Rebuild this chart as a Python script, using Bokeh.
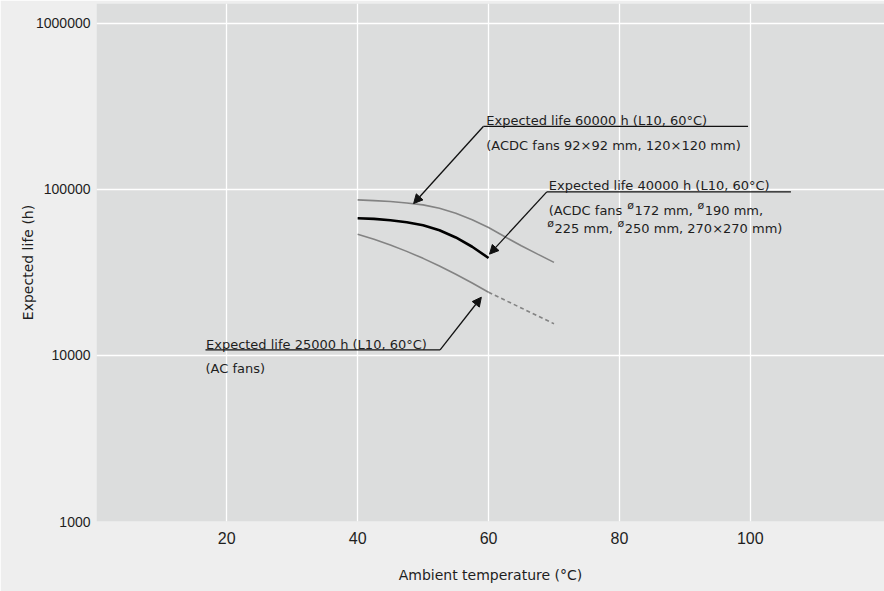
from bokeh.plotting import figure
from bokeh.models import Range1d, FixedTicker, NumeralTickFormatter, Label, Arrow, NormalHead
from bokeh.embed import file_html
from bokeh.resources import INLINE

# ---------------- data ----------------
temp_60k = [40, 42.5, 45, 47.5, 50, 52.5, 55, 57.5, 60, 62.5, 65, 67.5, 70]
life_60k = [86400, 85500, 84400, 82800, 80600, 76900, 71800, 65500, 58900, 51800, 45700, 40700, 36300]

temp_40k = [40, 42.5, 45, 47.5, 50, 52.5, 55, 57.5, 60]
life_40k = [67000, 66400, 65100, 63400, 60800, 56700, 51300, 45100, 38600]

temp_25k = [40, 42.5, 45, 47.5, 50, 52.5, 55, 57.5, 60]
life_25k = [53700, 50000, 46200, 42300, 38400, 34500, 30800, 27300, 24000]
temp_25k_ext = [60, 65, 70]
life_25k_ext = [24000, 19300, 15500]

x_ticks = [20, 40, 60, 80, 100]
x_tick_labels = ["20", "40", "60", "80", "100"]
y_ticks = [1000, 10000, 100000, 1000000]
y_tick_labels = ["1000", "10000", "100000", "1000000"]

ann_60k_lines = ["Expected life 60000 h (L10, 60°C)", "(ACDC fans 92×92 mm, 120×120 mm)"]
ann_40k_title = "Expected life 40000 h (L10, 60°C)"
ann_40k_line2 = [("(ACDC fans ", False), ("ø", True), ("172 mm, ", False), ("ø", True), ("190 mm,", False)]
ann_40k_line3 = [("ø", True), ("225 mm, ", False), ("ø", True), ("250 mm, 270×270 mm)", False)]
ann_25k_lines = ["Expected life 25000 h (L10, 60°C)", "(AC fans)"]

# ---------------- figure ----------------
FONT = "DejaVu Sans"
TXT = "#1e1e1e"

p = figure(width=884, height=591, output_backend="svg", toolbar_location=None,
           y_axis_type="log",
           x_range=Range1d(0.1, 120.5), y_range=Range1d(1000, 10 ** 6.1187),
           min_border_left=96, min_border_right=0, min_border_top=3, min_border_bottom=70)
p.background_fill_color = "#dcdddd"
p.border_fill_color = "#eeeeee"
p.outline_line_color = None

# grids
p.xgrid.ticker = FixedTicker(ticks=x_ticks)
p.ygrid.ticker = FixedTicker(ticks=y_ticks)
for g in (p.xgrid, p.ygrid):
    g.grid_line_color = "white"
    g.grid_line_width = 1.3
    g.minor_grid_line_color = None

# axes
p.xaxis.ticker = FixedTicker(ticks=x_ticks)
p.xaxis.major_label_overrides = {t: l for t, l in zip(x_ticks, x_tick_labels)}
p.yaxis.ticker = FixedTicker(ticks=y_ticks)
p.yaxis.formatter = NumeralTickFormatter(format="0")
p.yaxis.major_label_overrides = {t: l for t, l in zip(y_ticks, y_tick_labels)}
for ax in (p.xaxis, p.yaxis):
    ax.axis_line_color = None
    ax.major_tick_line_color = None
    ax.minor_tick_line_color = None
    ax.major_tick_out = 0
    ax.major_tick_in = 0
    ax.minor_tick_out = 0
    ax.minor_tick_in = 0
    ax.major_label_text_color = TXT
    ax.axis_label_text_color = TXT
    ax.axis_label_text_font = FONT
    ax.axis_label_text_font_style = "normal"
    ax.axis_label_text_font_size = "14px"

p.xaxis.axis_label = "Ambient temperature (°C)"
p.xaxis.major_label_text_font = "Liberation Sans"
p.xaxis.major_label_text_font_size = "16px"
p.xaxis.major_label_standoff = 10
p.xaxis.axis_label_standoff = 20

p.yaxis.axis_label = "Expected life (h)"
p.yaxis.major_label_text_font = "Liberation Sans"
p.yaxis.major_label_text_font_size = "14px"
p.yaxis.major_label_standoff = 6
p.yaxis.axis_label_standoff = -3

# curves
p.line(temp_60k, life_60k, line_color="#838383", line_width=1.6)
p.line(temp_40k, life_40k, line_color="#000000", line_width=2.6)
p.line(temp_25k, life_25k, line_color="#838383", line_width=1.6)
p.line(temp_25k_ext, life_25k_ext, line_color="#838383", line_width=1.6, line_dash="4 3")

# ---------------- annotations ----------------
def leader(x0, x1, y, tail_x, tip):
    p.segment(x0=[x0], y0=[y], x1=[x1], y1=[y], line_color="#111111", line_width=1.3)
    p.add_layout(Arrow(end=NormalHead(size=9, fill_color="#111111", line_color="#111111", line_width=1),
                       x_start=tail_x, y_start=y, x_end=tip[0], y_end=tip[1],
                       line_color="#111111", line_width=1.3))

def label(x, y, text, dx, dy, size="13px"):
    p.add_layout(Label(x=x, y=y, text=text, x_offset=dx, y_offset=dy,
                       text_font=FONT, text_font_size=size, text_color=TXT,
                       text_align="left", text_baseline="alphabetic"))

# DejaVu Sans advance widths (em) for composing the mixed lines
W = {" ": 0.318, "(": 0.390, ")": 0.390, ",": 0.318, "A": 0.684, "C": 0.698, "D": 0.770,
     "a": 0.613, "f": 0.352, "m": 0.974, "n": 0.634, "s": 0.521, "×": 0.838, "ø": 0.612}
def width(s, px):
    return sum(W.get(c, 0.636) for c in s) * px

def mixed(x, y, pieces, dx, dy):
    off = dx
    for txt, sup in pieces:
        if sup:
            label(x, y, txt, off + 0.5, dy + 5, size="11px")
            off += width(txt, 11) + 1.0
        else:
            label(x, y, txt, off, dy)
            off += width(txt, 13)

# 60000 h
a1 = dict(x0=59.2, x1=99.65, y=239000)
leader(a1["x0"], a1["x1"], a1["y"], a1["x0"], (48.55, 82100))
label(a1["x0"], a1["y"], ann_60k_lines[0], 3, 5.5)
label(a1["x0"], a1["y"], ann_60k_lines[1], 3, -19.5)

# 40000 h
a2 = dict(x0=68.9, x1=106.2, y=96500)
leader(a2["x0"], a2["x1"], a2["y"], a2["x0"], (60.15, 40700))
label(a2["x0"], a2["y"], ann_40k_title, 2, 6.5)
mixed(a2["x0"], a2["y"], ann_40k_line2, 2, -18.5)
mixed(a2["x0"], a2["y"], ann_40k_line3, 0, -36.8)

# 25000 h
a3 = dict(x0=16.75, x1=52.6, y=10800)
leader(a3["x0"], a3["x1"], a3["y"], a3["x1"], (58.9, 22400))
label(a3["x0"], a3["y"], ann_25k_lines[0], 0.5, 5)
label(a3["x0"], a3["y"], ann_25k_lines[1], 0, -18.5)

open("out.html", "w").write(file_html(p, INLINE))
